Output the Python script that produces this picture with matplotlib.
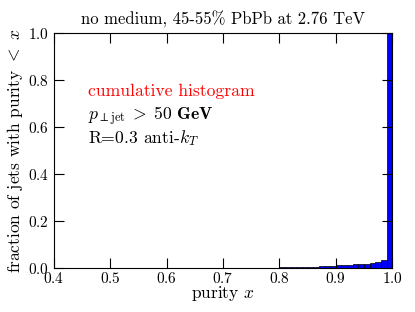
import matplotlib
matplotlib.use('Agg')
import matplotlib.pyplot as plt
import numpy as np

plt.rcParams['font.family'] = 'cmr10'
plt.rcParams['mathtext.fontset'] = 'cm'
plt.rcParams['axes.formatter.use_mathtext'] = True

# bin left edges and cumulative fraction (purity < right edge)
bin_left = [0.80, 0.81, 0.82, 0.83, 0.84, 0.85, 0.86, 0.87, 0.88, 0.89,
            0.90, 0.91, 0.92, 0.93, 0.94, 0.95, 0.96, 0.97, 0.98, 0.99]
cum_frac = [0.003, 0.003, 0.004, 0.004, 0.005, 0.005, 0.006, 0.007, 0.008, 0.010,
            0.011, 0.012, 0.013, 0.015, 0.017, 0.019, 0.021, 0.025, 0.034, 1.0]
bin_width = 0.01

fig = plt.figure(figsize=(4.15, 3.12), dpi=100)
ax = fig.add_axes([0.130, 0.141, 0.815, 0.753])

ax.bar(bin_left, cum_frac, width=bin_width, align='edge',
       color='#0000ff', edgecolor='black', linewidth=0.5)

ax.set_xlim(0.4, 1.0)
ax.set_ylim(0.0, 1.0)
ax.set_xticks(np.arange(0.4, 1.01, 0.1))
ax.set_yticks(np.arange(0.0, 1.01, 0.2))
ax.tick_params(direction='in', top=True, right=True, labelsize=11, length=7)
ax.tick_params(axis='x', pad=2)

ax.set_title('no medium, 45-55% PbPb at 2.76 TeV', fontsize=12)
ax.set_xlabel(r'purity $x$', fontsize=12.5, labelpad=-1)
ax.set_ylabel(r'fraction of jets with purity $<$ $x$', fontsize=12.5, labelpad=2)

ax.text(0.10, 0.75, 'cumulative histogram', color='red', fontsize=12.7,
        transform=ax.transAxes, va='center')
ax.text(0.10, 0.645, r'$p_{\perp\mathrm{jet}}\;>\;50\ \mathbf{GeV}$', fontsize=12.7,
        transform=ax.transAxes, va='center')
ax.text(0.10, 0.555, r'R=0.3 anti-$k_T$', fontsize=12.7,
        transform=ax.transAxes, va='center')

fig.savefig('out.png', dpi=100)
